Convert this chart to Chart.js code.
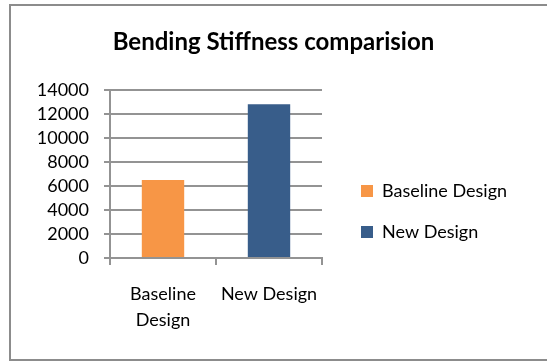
<!DOCTYPE html>
<html>
<head>
<meta charset="utf-8">
<script src="https://cdn.jsdelivr.net/npm/chart.js@4"></script>
<style>
  html, body { margin: 0; padding: 0; background: #fff; }
  #wrap { position: relative; width: 547px; height: 363px; overflow: hidden; }
  #frame { position: absolute; left: 9px; top: 4px; width: 560px; height: 353px; border: 2px solid #8c8c8c; pointer-events: none; }
  canvas { position: absolute; left: 0; top: 0; }
</style>
</head>
<body>
<div id="wrap">
  <canvas id="chart" width="547" height="363"></canvas>
  <div id="frame"></div>
</div>
<script>
// chart data
const categories = ["Baseline Design", "New Design"];
const xTickLabels = [["Baseline", "Design"], "New Design"];
const stiffness = [6500, 12800];
const barColors = ["#F79646", "#385D8A"];
const yTicks = [0, 2000, 4000, 6000, 8000, 10000, 12000, 14000];

const FONT = "Lato";
const gridColor = "#939393";

// widen legend box so it sits at the right spot
const legendWidth = {
    id: "legendWidth",
    beforeInit(chart) {
        const origFit = chart.legend.fit;
        chart.legend.fit = function () {
            origFit.call(this);
            this.width = 209;
        };
    }
};

new Chart(document.getElementById("chart"), {
    type: "bar",
    data: {
        labels: categories,
        datasets: [{
            label: "Bending Stiffness",
            data: stiffness,
            backgroundColor: barColors,
            categoryPercentage: 1,
            barPercentage: 0.4
        }]
    },
    options: {
        responsive: false,
        animation: false,
        plugins: {
            title: {
                display: true,
                text: "Bending Stiffness comparision",
                color: "#000",
                font: { family: FONT, size: 24, weight: "bold" },
                padding: { top: 28, bottom: 33 }
            },
            legend: {
                position: "right",
                align: "center",
                title: { display: true, text: "", font: { size: 10 }, padding: 24 },
                labels: {
                    boxWidth: 12,
                    boxHeight: 12,
                    padding: 23,
                    color: "#000",
                    font: { family: FONT, size: 18 },
                    generateLabels: () => categories.map((c, i) => ({
                        text: c,
                        fillStyle: barColors[i],
                        strokeStyle: barColors[i],
                        fontColor: "#000",
                        lineWidth: 0,
                        index: i
                    }))
                }
            },
            tooltip: { enabled: false }
        },
        scales: {
            x: {
                grid: { display: true, drawOnChartArea: false, offset: true, color: gridColor, lineWidth: 2, tickLength: 7 },
                border: { display: true, color: gridColor, width: 2 },
                ticks: {
                    color: "#000",
                    padding: 17,
                    autoSkip: false,
                    font: { family: FONT, size: 18, lineHeight: 1.4 },
                    maxRotation: 0,
                    callback: (v, i) => xTickLabels[i]
                },
                afterFit: s => { s.height = 105; }
            },
            y: {
                min: 0,
                max: 14000,
                afterBuildTicks: s => { s.ticks = yTicks.map(v => ({ value: v })); },
                grid: { color: gridColor, lineWidth: 2, tickLength: 6 },
                border: { display: true, color: gridColor, width: 2 },
                ticks: {
                    color: "#000",
                    padding: 15,
                    autoSkip: false,
                    font: { family: FONT, size: 18 },
                    callback: v => String(v)
                },
                afterFit: s => { s.width = 110; }
            },
            // spacer between plot and legend
            gap: {
                type: "linear",
                position: "right",
                display: true,
                grid: { display: false },
                border: { display: false },
                ticks: { display: false },
                afterFit: s => { s.width = 16; }
            }
        }
    },
    plugins: [legendWidth]
});
</script>
</body>
</html>
